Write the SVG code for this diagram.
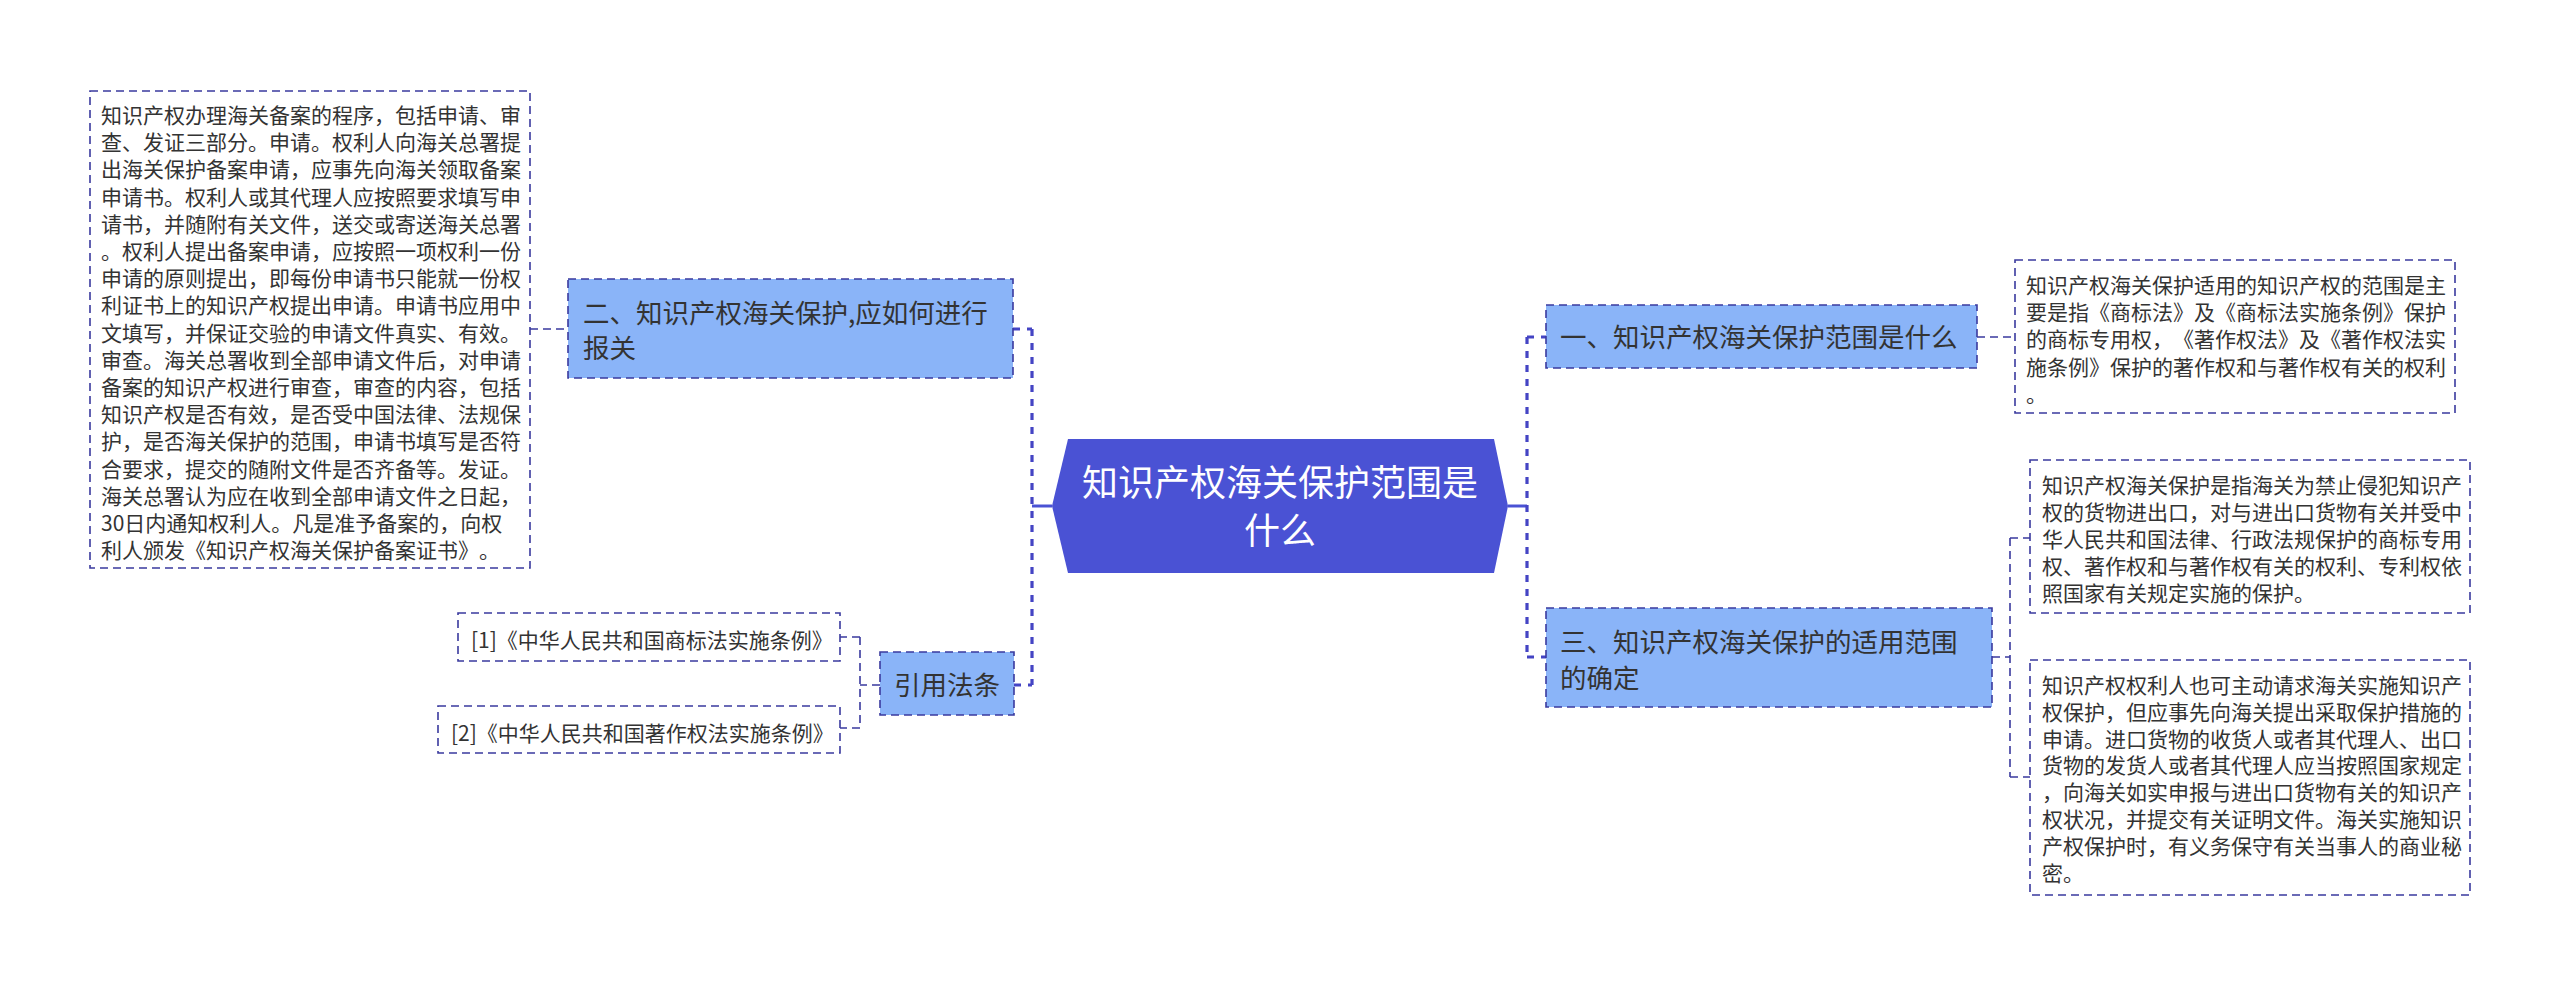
<svg xmlns="http://www.w3.org/2000/svg" width="2560" height="986" viewBox="0 0 2560 986">
<style>
text{font-family:"Noto Sans CJK SC","Liberation Sans",sans-serif;fill:#333333;text-spacing-trim:space-all}
.leaf{fill:#ffffff;stroke:#3a3a9e;stroke-width:1.6;stroke-dasharray:8 5}
.node{fill:#8ab4f8;stroke:#3a3a9e;stroke-width:1.6;stroke-dasharray:8 5}
.t21{font-size:21px}
.t26{font-size:26.5px}
.ctr{font-size:36px;fill:#ffffff;text-anchor:middle}
.trunk{fill:none;stroke:#4444c4;stroke-width:3.2;stroke-dasharray:7 7}
.thin{fill:none;stroke:#3a3a9e;stroke-width:1.6;stroke-dasharray:8 5}
.solid{fill:none;stroke:#4a52d4;stroke-width:3}
</style>
<rect width="2560" height="986" fill="#ffffff"/>
<g id="connectors">
<path class="solid" d="M1052 506H1032"/>
<path class="trunk" d="M1032 329V685"/>
<path class="trunk" d="M1013 329H1032"/>
<path class="trunk" d="M1014 685H1032"/>
<path class="thin" d="M530 329H568"/>
<path class="thin" d="M880 685H860M860 637V728M860 637H840M860 728H840"/>
<path class="solid" d="M1508 506H1527"/>
<path class="trunk" d="M1527 337V657"/>
<path class="trunk" d="M1527 337H1546M1527 657H1546"/>
<path class="thin" d="M1977 337H2015"/>
<path class="thin" d="M1992 657H2010M2010 538V777M2010 538H2030M2010 777H2030"/>
</g>
<g id="center">
<polygon points="1068,439 1494,439 1508,506 1494,573 1068,573 1052,506" fill="#4a52d4"/>
<text class="ctr" x="1280" y="496">知识产权海关保护范围是</text>
<text class="ctr" x="1280" y="544">什么</text>
</g>
<g id="node-er">
<rect class="node" x="568" y="279" width="445" height="99"/>
<text class="t26" x="583" y="323">二、知识产权海关保护,应如何进行</text>
<text class="t26" x="583" y="358">报关</text>
</g>
<g id="leaf-er">
<rect class="leaf" x="90" y="91" width="440" height="477"/>
<text class="t21" x="101">
<tspan x="101" y="123">知识产权办理海关备案的程序，包括申请、审</tspan>
<tspan x="101" y="150.2">查、发证三部分。申请。权利人向海关总署提</tspan>
<tspan x="101" y="177.4">出海关保护备案申请，应事先向海关领取备案</tspan>
<tspan x="101" y="204.6">申请书。权利人或其代理人应按照要求填写申</tspan>
<tspan x="101" y="231.8">请书，并随附有关文件，送交或寄送海关总署</tspan>
<tspan x="101" y="259">。权利人提出备案申请，应按照一项权利一份</tspan>
<tspan x="101" y="286.2">申请的原则提出，即每份申请书只能就一份权</tspan>
<tspan x="101" y="313.4">利证书上的知识产权提出申请。申请书应用中</tspan>
<tspan x="101" y="340.6">文填写，并保证交验的申请文件真实、有效。</tspan>
<tspan x="101" y="367.8">审查。海关总署收到全部申请文件后，对申请</tspan>
<tspan x="101" y="395">备案的知识产权进行审查，审查的内容，包括</tspan>
<tspan x="101" y="422.2">知识产权是否有效，是否受中国法律、法规保</tspan>
<tspan x="101" y="449.4">护，是否海关保护的范围，申请书填写是否符</tspan>
<tspan x="101" y="476.6">合要求，提交的随附文件是否齐备等。发证。</tspan>
<tspan x="101" y="503.8">海关总署认为应在收到全部申请文件之日起，</tspan>
<tspan x="101" y="531">30日内通知权利人。凡是准予备案的，向权</tspan>
<tspan x="101" y="558.2">利人颁发《知识产权海关保护备案证书》。</tspan>
</text>
</g>
<g id="node-yinyong">
<rect class="node" x="880" y="652" width="134" height="63"/>
<text class="t26" x="947" y="695" text-anchor="middle">引用法条</text>
</g>
<g id="ref1">
<rect class="leaf" x="458" y="613" width="382" height="48"/>
<text class="t21" x="471" y="648">[1]《中华人民共和国商标法实施条例》</text>
</g>
<g id="ref2">
<rect class="leaf" x="438" y="706" width="402" height="47"/>
<text class="t21" x="451" y="741">[2]《中华人民共和国著作权法实施条例》</text>
</g>
<g id="node-yi">
<rect class="node" x="1546" y="305" width="431" height="63"/>
<text class="t26" x="1560" y="347">一、知识产权海关保护范围是什么</text>
</g>
<g id="leaf-yi">
<rect class="leaf" x="2015" y="260" width="440" height="153"/>
<text class="t21">
<tspan x="2026" y="293">知识产权海关保护适用的知识产权的范围是主</tspan>
<tspan x="2026" y="320.2">要是指《商标法》及《商标法实施条例》保护</tspan>
<tspan x="2026" y="347.4">的商标专用权，《著作权法》及《著作权法实</tspan>
<tspan x="2026" y="374.6">施条例》保护的著作权和与著作权有关的权利</tspan>
<tspan x="2026" y="401.8">。</tspan>
</text>
</g>
<g id="node-san">
<rect class="node" x="1546" y="608" width="446" height="99"/>
<text class="t26" x="1560" y="652">三、知识产权海关保护的适用范围</text>
<text class="t26" x="1560" y="688">的确定</text>
</g>
<g id="leaf-san1">
<rect class="leaf" x="2030" y="460" width="440" height="153"/>
<text class="t21">
<tspan x="2042" y="493">知识产权海关保护是指海关为禁止侵犯知识产</tspan>
<tspan x="2042" y="520.1">权的货物进出口，对与进出口货物有关并受中</tspan>
<tspan x="2042" y="547.2">华人民共和国法律、行政法规保护的商标专用</tspan>
<tspan x="2042" y="574.3">权、著作权和与著作权有关的权利、专利权依</tspan>
<tspan x="2042" y="601.4">照国家有关规定实施的保护。</tspan>
</text>
</g>
<g id="leaf-san2">
<rect class="leaf" x="2030" y="660" width="440" height="235"/>
<text class="t21">
<tspan x="2042" y="693">知识产权权利人也可主动请求海关实施知识产</tspan>
<tspan x="2042" y="719.8">权保护，但应事先向海关提出采取保护措施的</tspan>
<tspan x="2042" y="746.6">申请。进口货物的收货人或者其代理人、出口</tspan>
<tspan x="2042" y="773.4">货物的发货人或者其代理人应当按照国家规定</tspan>
<tspan x="2042" y="800.2">，向海关如实申报与进出口货物有关的知识产</tspan>
<tspan x="2042" y="827">权状况，并提交有关证明文件。海关实施知识</tspan>
<tspan x="2042" y="853.8">产权保护时，有义务保守有关当事人的商业秘</tspan>
<tspan x="2042" y="880.6">密。</tspan>
</text>
</g>
</svg>
